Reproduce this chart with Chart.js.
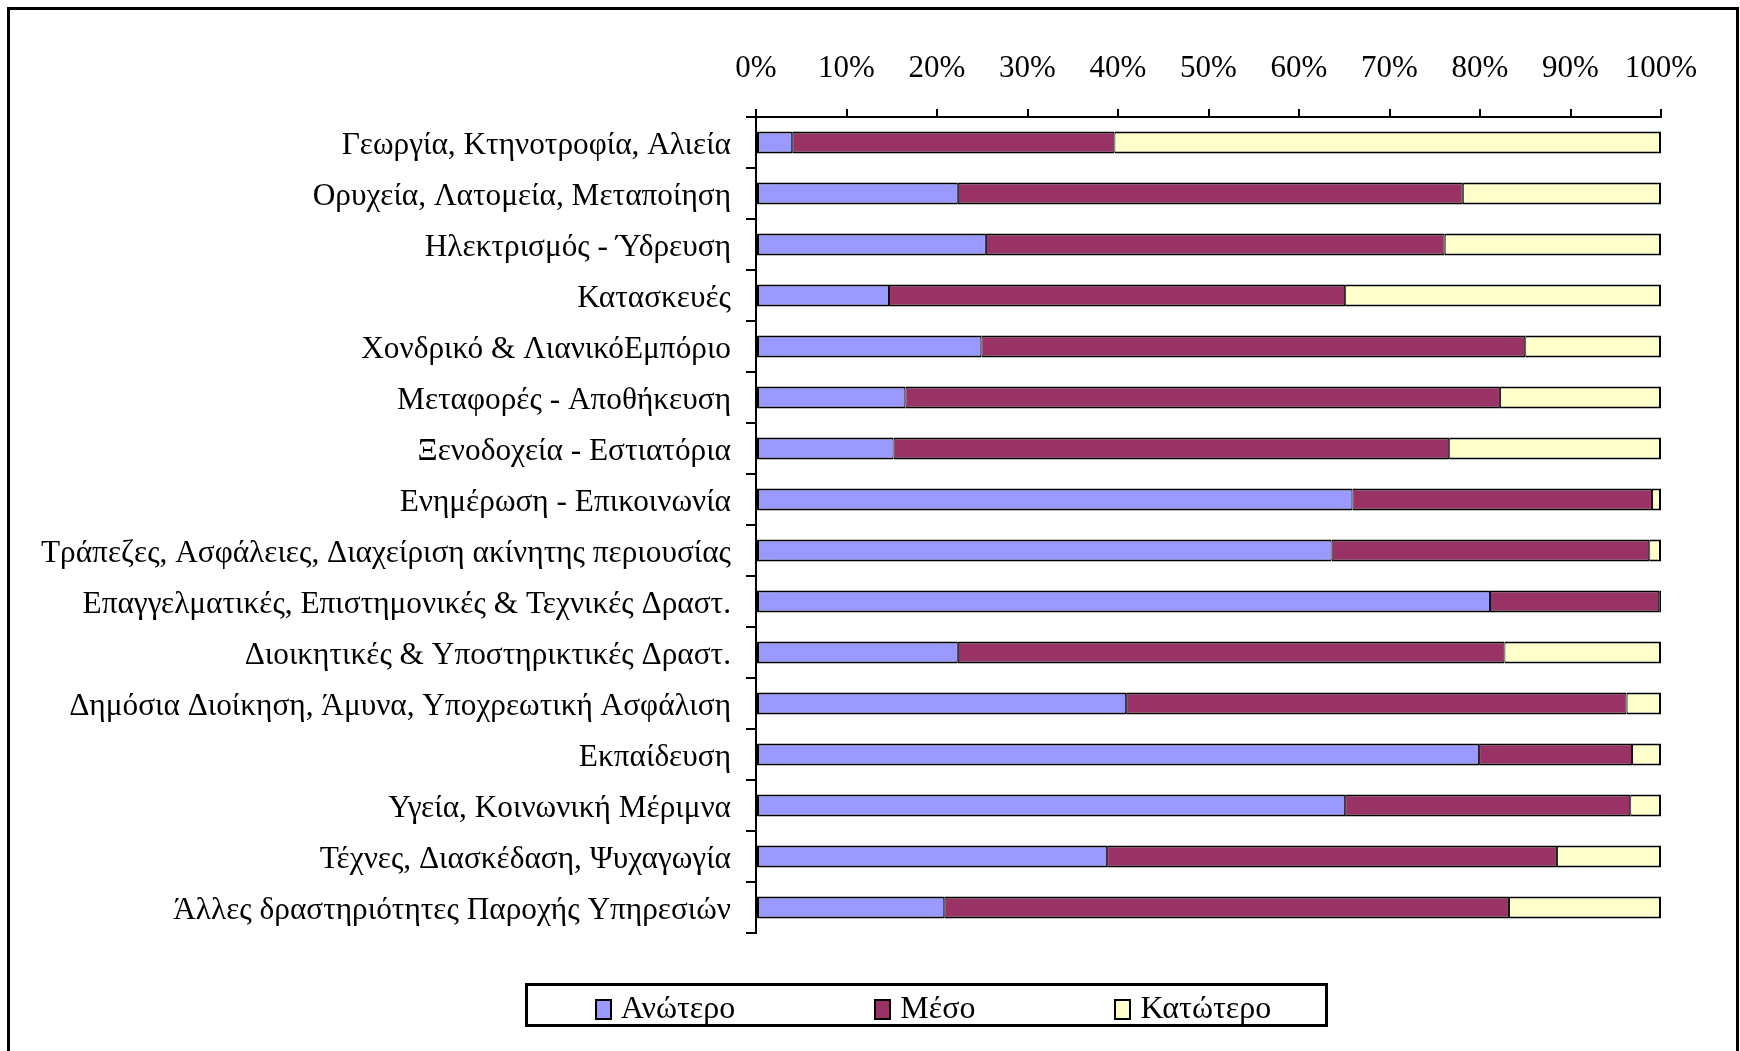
<!DOCTYPE html>
<html>
<head>
<meta charset="utf-8">
<script src="https://cdn.jsdelivr.net/npm/chart.js@4.4.1/dist/chart.umd.min.js"></script>
<style>
body{margin:0;background:#fff;}
#frame{position:absolute;left:7px;top:7px;width:1726px;height:1100px;border:3px solid #000;}
#chart{position:absolute;left:0;top:0;}
#legend{position:absolute;left:525px;top:983px;width:784px;height:33px;padding-top:5px;padding-left:13px;border:3px solid #000;display:flex;justify-content:center;align-items:center;gap:139px;font:32px "Liberation Serif",serif;color:#000;}
.item{display:flex;align-items:center;}
.sw{width:13px;height:17px;border:2px solid #000;margin-right:9px;margin-top:3px;}
</style>
</head>
<body>
<div id="frame"></div>
<canvas id="chart" width="1740" height="1051"></canvas>
<div id="legend"></div>
<script>
// ===== DATA =====
const categories = [
"Γεωργία, Κτηνοτροφία, Αλιεία",
"Ορυχεία, Λατομεία, Μεταποίηση",
"Ηλεκτρισμός - Ύδρευση",
"Κατασκευές",
"Χονδρικό & ΛιανικόΕμπόριο",
"Μεταφορές - Αποθήκευση",
"Ξενοδοχεία - Εστιατόρια",
"Ενημέρωση - Επικοινωνία",
"Τράπεζες, Ασφάλειες, Διαχείριση ακίνητης περιουσίας",
"Επαγγελματικές, Επιστημονικές & Τεχνικές Δραστ.",
"Διοικητικές & Υποστηρικτικές Δραστ.",
"Δημόσια Διοίκηση, Άμυνα, Υποχρεωτική Ασφάλιση",
"Εκπαίδευση",
"Υγεία, Κοινωνική Μέριμνα",
"Τέχνες, Διασκέδαση, Ψυχαγωγία",
"Άλλες δραστηριότητες Παροχής Υπηρεσιών"
]

const seriesNames = ["Ανώτερο","Μέσο","Κατώτερο"]
const seriesColors = ["#9999ff","#993366","#ffffcc"]

const upper  = [4.0,22.3,25.4,14.7,24.9,16.5,15.2,65.9,63.6,81.1,22.3,40.9,79.9,65.1,38.8,20.8]
const middle = [35.6,55.8,50.7,50.4,60.1,65.7,61.4,33.1,35.1,18.7,60.4,55.3,16.9,31.5,49.7,62.4]
const lower  = [60.4,21.9,23.9,34.9,15.0,17.8,23.4,1.0,1.3,0.2,17.3,3.8,3.2,3.4,11.5,16.8]

const xTicks = [0,10,20,30,40,50,60,70,80,90,100]


// ===== CHART =====
Chart.defaults.font.family = '"Liberation Serif", serif'
Chart.defaults.color = "#000"

const values = [upper, middle, lower]
const edges = [
{top:2,bottom:2,left:2,right:1},
{top:2,bottom:2,left:1,right:1},
{top:2,bottom:2,left:1,right:2}
]

const chart = new Chart(document.getElementById("chart"),{
type:"bar",
data:{
labels:categories,
datasets:seriesNames.map((name,i)=>({
label:name,
data:values[i],
backgroundColor:seriesColors[i],
borderColor:"#000",
borderWidth:edges[i],
borderSkipped:false,
barPercentage:0.43,
categoryPercentage:1
}))
},
options:{
indexAxis:"y",
responsive:false,
animation:false,
devicePixelRatio:1,
layout:{padding:{left:0,right:79,top:10,bottom:118}},
plugins:{legend:{display:false},tooltip:{enabled:false}},
scales:{
x:{
position:"top",
stacked:true,
min:0,
max:100,
afterBuildTicks:s=>{ s.ticks = xTicks.map(v=>({value:v})) },
afterFit:s=>{ s.height = 107 },
ticks:{callback:v=>v+"%",font:{size:31},padding:22,maxRotation:0,autoSkip:false},
grid:{drawOnChartArea:false,tickLength:8,color:"#000",lineWidth:2},
border:{color:"#000",width:2}
},
y:{
stacked:true,
afterFit:s=>{ s.width = 756 },
// empty first line nudges the label a few px below the bar centre, as in the original
ticks:{callback:function(v){ return ["", this.getLabelForValue(v)] },font:{size:31.3,lineHeight:0.19},padding:15,autoSkip:false},
grid:{offset:true,drawOnChartArea:false,tickLength:10,color:"#000",lineWidth:2},
border:{color:"#000",width:2}
}
}
}
})


// ===== LEGEND =====
const legend = document.getElementById("legend")
seriesNames.forEach((name,i)=>{
const item = document.createElement("div")
item.className = "item"
const sw = document.createElement("span")
sw.className = "sw"
sw.style.background = seriesColors[i]
const txt = document.createElement("span")
txt.textContent = name
item.appendChild(sw)
item.appendChild(txt)
legend.appendChild(item)
})
</script>
</body>
</html>
